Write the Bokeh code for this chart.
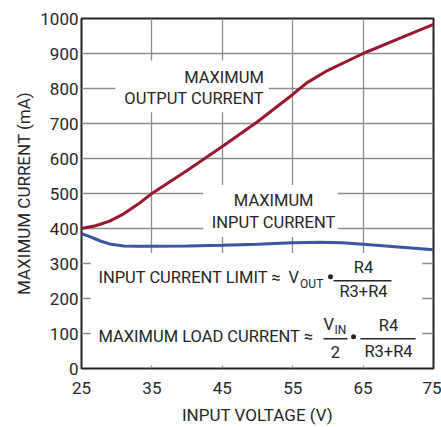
from bokeh.plotting import figure
from bokeh.models import Range1d, FixedTicker, Label
from bokeh.embed import file_html
from bokeh.resources import INLINE

FONT = "Roboto"
TXT = "#262626"

# ---- data ----
vin_out = [25, 27, 29, 31, 33, 35, 40, 45, 50, 55, 57, 60, 65, 70, 75]
i_out = [400, 408, 421, 442, 469, 500, 566, 634, 705, 783, 816, 852, 900, 942, 983]

vin_in = [25, 26, 27, 28, 29, 31, 33, 35, 40, 45, 50, 55, 59, 62, 65, 70, 75]
i_in = [385, 378, 370, 362, 356, 350, 349, 349, 350, 352, 355, 359, 361, 359, 355, 347, 339]

x_ticks = [25, 35, 45, 55, 65, 75]
y_ticks = [0, 100, 200, 300, 400, 500, 600, 700, 800, 900, 1000]

p = figure(width=441, height=427, output_backend="svg", toolbar_location=None,
           x_range=Range1d(25, 75), y_range=Range1d(0, 1000),
           min_border_left=81, min_border_right=8, min_border_top=18, min_border_bottom=58)

p.background_fill_color = "white"
p.border_fill_color = "white"
p.outline_line_color = "#222222"
p.outline_line_width = 2

for ax, ticks in ((p.xaxis, x_ticks), (p.yaxis, y_ticks)):
    ax.ticker = FixedTicker(ticks=ticks)
    ax.major_tick_in = 0
    ax.major_tick_out = 0
    ax.minor_tick_line_color = None
    ax.axis_line_color = None
    ax.major_label_text_font = FONT
    ax.major_label_text_font_size = "17px"
    ax.major_label_text_color = TXT
    ax.axis_label_text_font = FONT
    ax.axis_label_text_font_size = "17px"
    ax.axis_label_text_font_style = "normal"
    ax.axis_label_text_color = TXT

p.xaxis.axis_label = "INPUT VOLTAGE (V)"
p.yaxis.axis_label = "MAXIMUM CURRENT (mA)"
p.xaxis.major_label_standoff = 13
p.yaxis.major_label_standoff = 3
p.xaxis.axis_label_standoff = 8
p.yaxis.axis_label_standoff = 3

p.xgrid.ticker = FixedTicker(ticks=x_ticks)
p.ygrid.ticker = FixedTicker(ticks=y_ticks)
for g in (p.xgrid, p.ygrid):
    g.grid_line_color = "#8c8c8c"
    g.grid_line_width = 1.3

# white boxes behind annotation texts (hide grid)
p.quad(left=[29.8, 42.3, 26.3], right=[51.6, 61.4, 73.4],
       bottom=[732, 376, 8.5], top=[880, 524, 330],
       fill_color="white", line_color=None)

# curves
p.line(vin_out, i_out, line_color="#9a1630", line_width=3)
p.line(vin_in, i_in, line_color="#3a55a4", line_width=3)


def lab(x, y, text, size="16.5px", align="left"):
    p.add_layout(Label(x=x, y=y, text=text, text_font=FONT, text_font_size=size,
                       text_color=TXT, text_align=align, text_baseline="middle"))


lab(50.9, 832, "MAXIMUM", align="right")
lab(50.9, 772, "OUTPUT CURRENT", align="right")
lab(52.3, 479, "MAXIMUM", align="center")
lab(52.3, 418, "INPUT CURRENT", align="center")

# formula 1
lab(27.4, 259, "INPUT CURRENT LIMIT \u2248")
lab(54.4, 259, "V")
lab(56.05, 241, "OUT", size="12px")
lab(65.06, 288, "R4", align="center")
lab(65.06, 219, "R3+R4", align="center")

# formula 2
lab(27.4, 91, "MAXIMUM LOAD CURRENT \u2248")
lab(59.37, 125, "V")
lab(60.95, 111, "IN", size="12px")
lab(61.08, 48, "2", align="center")
lab(68.61, 122, "R4", align="center")
lab(68.61, 48, "R3+R4", align="center")

p.segment(x0=[60.8, 59.37, 64.63], y0=[251, 85, 85], x1=[69.03, 62.78, 72.44], y1=[251, 85, 85],
          line_color=TXT, line_width=1.5)
p.scatter(x=[60.37, 63.64], y=[262, 91], size=5, marker="circle",
          fill_color=TXT, line_color=None)

open("out.html", "w").write(file_html(p, INLINE))
